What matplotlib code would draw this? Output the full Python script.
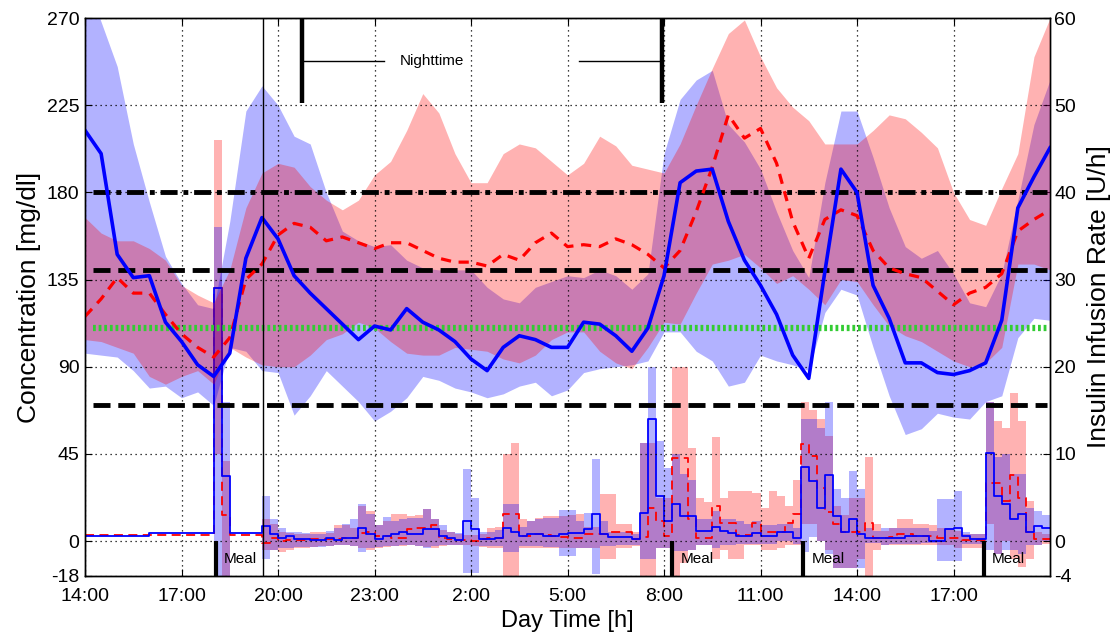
import numpy as np
import matplotlib
matplotlib.use("Agg")
import matplotlib.pyplot as plt

plt.rcParams['font.family'] = ['Liberation Sans', 'DejaVu Sans']

# ---------------- glucose data (mg/dl), sampled every 0.5 h from 14:00 ----------------
g_step = 0.5
glu_blue_mean = [212, 200, 148, 136, 137, 113, 103, 91, 85, 97, 146, 167, 156, 137, 128, 120,
                 112, 104, 111, 109, 120, 113, 109, 103, 94, 88, 100, 106, 104, 100, 100, 113,
                 112, 106, 98, 110, 137, 185, 191, 192, 165, 145, 132, 117, 96, 84, 139, 192,
                 180, 132, 115, 92, 92, 87, 86, 88, 92, 114, 172, 188, 203]
glu_blue_lo = [97, 96, 95, 88, 79, 80, 74, 77, 70, 100, 98, 88, 87, 65, 75, 88,
               80, 72, 62, 67, 74, 85, 83, 79, 77, 74, 76, 80, 82, 75, 78, 87,
               89, 90, 91, 93, 108, 108, 98, 93, 80, 82, 96, 93, 91, 88, 118, 130,
               127, 100, 75, 55, 58, 66, 64, 63, 72, 75, 105, 115, 114]
glu_blue_hi = [290, 268, 245, 205, 175, 147, 133, 122, 120, 165, 222, 235, 225, 209, 205, 180,
               160, 155, 152, 153, 145, 141, 140, 140, 140, 131, 125, 123, 131, 134, 137, 136,
               140, 137, 130, 138, 200, 228, 238, 243, 215, 206, 192, 170, 150, 136, 185, 222,
               222, 198, 172, 152, 146, 150, 138, 123, 121, 138, 176, 215, 238]
glu_red_mean = [116, 125, 136, 128, 128, 117, 107, 100, 95, 105, 135, 143, 158, 164, 162, 155,
                157, 154, 151, 154, 154, 150, 146, 144, 144, 142, 148, 145, 154, 159, 152, 153,
                152, 156, 153, 148, 141, 150, 170, 193, 220, 208, 213, 195, 165, 146, 166, 171,
                168, 150, 141, 138, 136, 129, 122, 128, 131, 138, 160, 166, 171]
glu_red_lo = [104, 103, 100, 97, 85, 81, 85, 88, 81, 100, 95, 91, 90, 90, 96, 104,
              107, 113, 110, 103, 97, 96, 96, 100, 99, 98, 94, 92, 96, 104, 108, 108,
              98, 92, 89, 100, 113, 112, 128, 143, 145, 148, 141, 133, 137, 130, 122, 135,
              134, 122, 111, 106, 103, 98, 93, 90, 92, 100, 143, 143, 140]
glu_red_hi = [167, 159, 155, 155, 151, 145, 132, 127, 123, 140, 172, 190, 195, 193, 183, 176,
              171, 176, 189, 196, 212, 231, 221, 200, 185, 185, 200, 205, 203, 196, 189, 195,
              209, 204, 194, 192, 190, 205, 225, 244, 262, 269, 250, 234, 224, 217, 205, 205,
              205, 212, 220, 218, 211, 203, 180, 166, 163, 182, 200, 250, 270]

# ---------------- insulin data (U/h), step bins ----------------
ins_pre_edges = [0, 2, 4, 4.25, 4.5, 5.5]
ins_pre_blue = [0.6, 0.9, 29, 7.5, 0.9]
ins_pre_blue_lo = [0.6, 0.9, -4, -4, 0.9]
ins_pre_blue_hi = [0.6, 0.9, 36, 16, 0.9]
ins_pre_red = [0.75, 0.75, 29, 3, 0.75]
ins_pre_red_lo = [0.75, 0.75, 10, -4, 0.75]
ins_pre_red_hi = [0.75, 0.75, 46, 9.2, 0.75]

ins_start = 5.5
ins_step = 0.25
ins_blue = [1.7, 0.8, 0.4, 0.6, 0.2, 0.2, 0.1, 0.1, 0.4, 0.1, 0.3, 0.4, 1.5, 0.8, 0.2, 0.6,
            0.8, 1.0, 0.8, 0.8, 1.4, 1.4, 0.6, 0.4, 0.1, 2.3, 1.4, 0.2, 0.2, 0.4, 1.5, 1.0,
            0.6, 0.8, 0.8, 0.6, 0.6, 0.8, 0.9, 0.9, 1.4, 3.1, 0.8, 0.5, 0.5, 0.5, 0.2, 3.25,
            14.0, 5.2, 2.3, 4.2, 2.9, 2.9, 1.2, 1.2, 1.6, 1.2, 0.9, 0.6, 0.6, 0.9, 0.6, 0.6,
            1.1, 1.1, 0.3, 8.5, 6.9, 3.8, 7.6, 2.9, 1.1, 2.5, 0.8, 0.3, 0.3, 0.3, 0.3, 0.3,
            0.6, 0.6, 0.6, 0.0, 0.0, 1.4, 1.5, 0.6, 0.2, 0.2, 10.1, 5.2, 4.2, 2.5, 3.1, 1.1,
            1.7, 1.5]
ins_blue_lo = [-2.0, -1.0, -0.8, -0.8, -0.7, -0.7, -0.7, -0.7, -0.6, -0.5, -0.5, -0.6, -1.2, -0.8, -0.7, -0.6,
               -0.6, -0.5, -0.5, -0.6, -0.8, -0.6, -0.5, -0.5, -0.4, -3.7, -3.7, -0.6, -0.6, -0.6, -1.2, -1.2,
               -0.6, -0.6, -0.6, -0.7, -0.7, -1.7, -1.7, -0.8, -0.8, -3.8, -0.6, -0.6, -0.5, -0.5, -0.4, -2.1,
               -2.1, -0.8, -0.8, -1.1, -1.1, -1.0, -0.5, -0.4, -0.8, -0.5, -0.5, -0.3, -0.3, -0.3, -0.3, -0.3,
               0.0, 0.0, -0.3, -1.2, 0.5, 0.0, -1.5, -3.1, -3.1, -3.1, -3.1, -0.2, -0.2, -0.5, -0.3, -0.3,
               -0.3, -0.3, -0.2, -0.2, -2.3, -2.3, -2.3, -0.3, -0.3, -0.3, -1.0, -1.5, -1.0, -1.0, -1.5, -0.5,
               -0.5, 0.0]
ins_blue_hi = [5.2, 2.5, 1.5, 1.1, 1.0, 0.9, 0.8, 0.8, 1.2, 1.5, 2.0, 2.5, 4.2, 3.1, 1.8, 2.8,
               2.3, 2.5, 2.7, 2.7, 3.7, 2.5, 1.8, 1.1, 0.9, 8.3, 5.0, 1.0, 1.1, 1.3, 4.2, 4.2,
               1.6, 2.3, 2.5, 2.7, 2.7, 3.6, 3.6, 2.3, 3.25, 9.4, 2.3, 1.1, 1.0, 1.0, 0.8, 11.3,
               20.0, 11.5, 8.4, 10.0, 7.7, 7.0, 2.5, 2.5, 3.5, 2.5, 2.5, 2.3, 2.0, 2.3, 1.8, 1.8,
               2.0, 2.0, 1.5, 14.0, 14.0, 13.0, 16.0, 6.0, 5.0, 8.0, 6.0, 1.5, 1.2, 1.5, 1.5, 1.5,
               1.5, 1.5, 1.5, 1.2, 4.8, 4.8, 5.7, 1.0, 0.8, 0.8, 16.0, 9.6, 10.0, 7.7, 7.7, 3.8,
               3.4, 3.0]
ins_red = [-0.2, 0.4, 0.0, 0.1, 0.1, 0.1, 0.2, 0.2, 0.2, 0.2, 0.3, 0.3, 0.95, 1.1, 0.6, 0.6,
           0.4, 0.4, 1.4, 1.5, 1.5, 1.9, 0.3, 0.2, 0.1, 0.1, 0.0, 0.2, 0.3, 0.4, 3.1, 3.1,
           0.6, 0.6, 0.8, 0.7, 0.6, 0.5, 0.4, 0.4, 0.8, 0.8, 0.8, 1.0, 1.0, 1.0, 0.2, 0.5,
           3.8, 2.3, 0.6, 9.5, 9.5, 2.5, 0.3, 0.3, 4.0, 2.1, 2.1, 0.7, 0.7, 2.1, 1.0, 1.0,
           1.0, 2.1, 3.1, 11.1, 9.8, 6.1, 3.3, 2.0, 1.1, 1.0, 1.1, 2.1, 0.3, 0.3, 0.5, 0.8,
           0.8, 0.6, 0.6, 0.6, 0.4, 0.4, 0.4, 0.1, 0.1, 0.1, 6.7, 6.7, 4.6, 7.6, 5.0, 1.1,
           0.2, 0.2]
ins_red_lo = [-1.0, -1.0, -1.2, -1.0, -0.8, -0.8, -0.7, -0.6, -0.6, -0.5, -0.5, -0.6, -0.8, -1.0, -0.8, -0.7,
              -0.6, -0.6, -0.5, -0.6, -0.7, -0.8, -0.6, -0.5, -0.4, -0.5, -0.6, -0.7, -0.8, -0.8, -4.0, -4.0,
              -0.8, -0.8, -0.8, -0.8, -0.8, -0.8, -0.8, -0.8, -0.8, -0.8, -2.1, -2.1, -0.8, -0.8, -0.6, -4.0,
              -4.0, -0.8, -0.8, -4.0, -2.5, -1.0, -0.5, -0.5, -2.0, -1.0, -2.0, -2.0, -0.5, -0.5, -1.0, -1.0,
              -0.8, -0.5, -0.5, 2.0, 2.0, 0.0, -1.0, -3.1, -3.1, -3.1, -2.0, -4.0, -1.0, -0.5, -0.5, -0.5,
              -0.5, -0.5, -0.5, -0.5, -0.5, -0.5, -0.8, -0.8, -0.8, -0.8, 2.0, -1.5, 0.0, -2.0, -3.0, -2.0,
              -0.5, -0.3]
ins_red_hi = [2.5, 2.0, 1.1, 0.9, 0.8, 0.8, 1.0, 1.0, 0.9, 1.8, 1.9, 1.5, 4.0, 3.4, 1.8, 2.3,
              3.1, 3.1, 2.9, 3.0, 3.7, 2.5, 1.3, 1.0, 0.8, 0.7, 0.7, 0.8, 1.5, 1.6, 10.0, 11.3,
              2.5, 2.3, 2.6, 2.9, 2.9, 2.9, 3.0, 3.1, 1.6, 1.6, 5.4, 5.4, 2.0, 2.0, 1.0, 11.2,
              11.2, 5.0, 5.0, 20.0, 20.0, 10.7, 5.0, 4.5, 11.9, 5.0, 5.7, 5.7, 5.7, 5.5, 3.8, 5.7,
              5.2, 4.0, 7.0, 16.0, 15.0, 14.0, 12.0, 4.0, 3.0, 5.0, 5.0, 9.6, 2.0, 1.2, 1.5, 2.5,
              2.5, 2.0, 2.0, 1.8, 1.5, 1.5, 1.2, 0.8, 0.8, 0.8, 16.0, 13.8, 13.0, 17.0, 13.8, 4.6,
              1.0, 0.8]

# ---------------- annotations ----------------
hour_ticks = [0, 3, 6, 9, 12, 15, 18, 21, 24, 27]
hour_labels = ['14:00', '17:00', '20:00', '23:00', '2:00', '5:00', '8:00', '11:00', '14:00', '17:00']
glu_ticks = [-18, 0, 45, 90, 135, 180, 225, 270]
ins_ticks = [-4, 0, 10, 20, 30, 40, 50, 60]
meal_times = [4.07, 18.26, 22.33, 27.95]
start_line = 5.53
night_start, night_end = 6.74, 17.95
level_hyper = 180
level_upper = 140
level_target = 110
level_hypo = 70

# ---------------- figure ----------------
fig = plt.figure(figsize=(11.13, 6.37), dpi=100)
ax = fig.add_axes([0.0764, 0.0958, 0.8670, 0.8759])
ax2 = ax.twinx()
ax.set_zorder(ax2.get_zorder() + 1)
ax.patch.set_visible(False)

t_g = np.arange(len(glu_blue_mean)) * g_step

# glucose bands
ax.fill_between(t_g, glu_blue_lo, glu_blue_hi, color=(0, 0, 1), alpha=0.3, lw=0)
ax.fill_between(t_g, glu_red_lo, glu_red_hi, color=(1, 0, 0), alpha=0.3, lw=0)

# insulin bands and steps (right axis)
edges = np.concatenate([ins_pre_edges[:-1], ins_start + ins_step * np.arange(len(ins_blue) + 1)])
def ext(pre, main):
    v = list(pre) + list(main)
    return np.array(v + [v[-1]])
ax2.fill_between(edges, ext(ins_pre_red_lo, ins_red_lo), ext(ins_pre_red_hi, ins_red_hi),
                 step='post', color=(1, 0, 0), alpha=0.3, lw=0)
ax2.fill_between(edges, ext(ins_pre_blue_lo, ins_blue_lo), ext(ins_pre_blue_hi, ins_blue_hi),
                 step='post', color=(0, 0, 1), alpha=0.3, lw=0)
ax2.step(edges, ext(ins_pre_red, ins_red), where='post', color='#ff0000', lw=1.3,
         ls=(0, (5, 3)))
ax2.step(edges, ext(ins_pre_blue, ins_blue), where='post', color='#0000ff', lw=1.3)

# reference levels
ax.plot([0.25, 29.9], [level_hyper] * 2, color='k', lw=3.5, ls=(0, (3.5, 1.2, 1.0, 1.2)))
ax.plot([0.25, 29.9], [level_upper] * 2, color='k', lw=3.5, ls=(0, (3.5, 1.6)))
ax.plot([0.25, 29.9], [level_hypo] * 2, color='k', lw=3.5, ls=(0, (3.5, 1.6)))
ax.plot([0.25, 29.9], [level_target] * 2, color='#33cc33', lw=4.5, ls=(0, (0.45, 0.45)))

# glucose mean curves
ax.plot(t_g, glu_red_mean, color='#ff0000', lw=2.3, ls=(0, (3.2, 2.4)))
ax.plot(t_g, glu_blue_mean, color='#0000ff', lw=2.6)

# vertical start line
ax.axvline(start_line, color='k', lw=1)

# nighttime marker
for tn in (night_start, night_end):
    ax.plot([tn, tn], [226, 270], color='k', lw=3.2, solid_capstyle='butt')
ax.plot([night_start, 9.29], [248, 248], color='k', lw=1)
ax.plot([15.37, night_end], [248, 248], color='k', lw=1)
ax.text(10.78, 248, 'Nighttime', ha='center', va='center', fontsize=11)

# meals
for tm in meal_times:
    ax.plot([tm, tm], [-18, 0], color='k', lw=3, solid_capstyle='butt')
    ax.text(tm + 0.25, -9, 'Meal', ha='left', va='center', fontsize=11)

# axes formatting
ax.set_xlim(0, 30)
ax.set_ylim(-18, 270)
ax2.set_ylim(-4, 60)
ax.set_xticks(hour_ticks)
ax.set_xticklabels(hour_labels)
ax.set_yticks(glu_ticks)
ax.set_yticklabels([str(v) for v in glu_ticks])
ax2.set_yticks(ins_ticks)
ax2.set_yticklabels([str(v) for v in ins_ticks])
ax.grid(True, ls=(0, (1, 3)), color='k', lw=0.9)
ax.tick_params(direction='in', length=5, top=True, labelsize=14)
ax.tick_params(axis='x', pad=9)
ax.tick_params(axis='y', right=False, pad=4)
ax2.tick_params(direction='in', length=5, labelsize=14, pad=3)
for a in (ax, ax2):
    for s in a.spines.values():
        s.set_linewidth(1.0)
        s.set_color('k')
ax.set_xlabel('Day Time [h]', fontsize=17, labelpad=3)
ax.set_ylabel('Concentration [mg/dl]', fontsize=19, labelpad=4)
ax2.set_ylabel('Insulin Infusion Rate [U/h]', fontsize=19, labelpad=8)

fig.savefig('out.png', dpi=100)
